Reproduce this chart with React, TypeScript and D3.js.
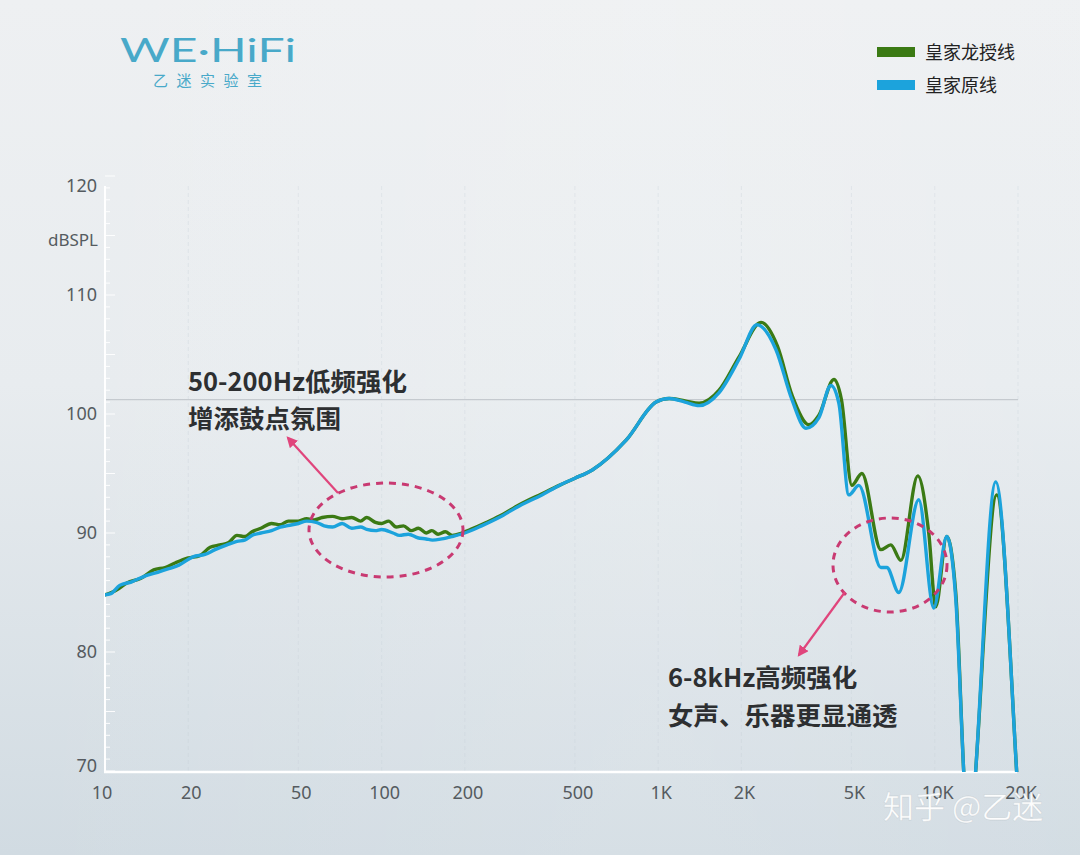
import React from "react";
import * as d3 from "d3";

// ---- data ----
const xTickValues = [10, 20, 50, 100, 200, 500, 1000, 2000, 5000, 10000, 20000];
const xTickLabels = ["10", "20", "50", "100", "200", "500", "1K", "2K", "5K", "10K", "20K"];
const yTickValues = [70, 80, 90, 100, 110, 120];
const referenceLevel = 101.2;

const greenFreq = [10, 11, 12, 13.5, 15, 16.5, 18, 20, 22, 24, 26, 28, 30, 32, 34, 36.6, 40, 43, 46, 50, 53.6, 57, 61, 66.5, 72, 78, 84, 88.4, 95, 100, 106, 113, 120, 128, 136, 145, 152, 160, 170, 180, 195, 210, 240, 266, 316, 380, 439, 500, 578, 766, 983, 1096, 1250, 1406, 1661, 1961, 2354, 2700, 3046, 3509, 3813, 4320, 4600, 5016, 5452, 6386, 6937, 7541, 8682, 9513, 10084, 11050, 11909, 12724, 13300, 14060, 16750, 19770, 20000];
const greenDb = [84.8, 85.2, 85.8, 86.2, 86.9, 87.1, 87.5, 87.9, 88.1, 88.8, 89.0, 89.2, 89.8, 89.7, 90.1, 90.4, 90.8, 90.7, 91.0, 91.0, 91.2, 91.1, 91.3, 91.4, 91.2, 91.3, 91.0, 91.3, 90.9, 90.8, 91.0, 90.5, 90.6, 90.2, 90.4, 90.0, 90.2, 89.9, 90.1, 89.8, 90.0, 90.3, 90.9, 91.4, 92.4, 93.3, 94.0, 94.6, 95.3, 97.8, 101.0, 101.3, 101.1, 100.9, 102.0, 104.8, 107.7, 105.7, 101.6, 99.1, 99.9, 102.9, 101.2, 94.0, 95.0, 88.6, 89.0, 87.7, 94.8, 90.0, 83.8, 89.7, 85.0, 70, 62, 70, 93.2, 70, 68];

const blueFreq = [10, 10.5, 11.3, 12.5, 14, 15.5, 17, 18.5, 20.8, 23, 25, 27.6, 30, 32, 34, 36.6, 40, 43, 45.3, 50, 53.6, 58, 62, 66.5, 72, 78, 84, 88.4, 95, 100, 110, 116, 125, 135, 145, 152.7, 165, 180, 200, 230, 266, 316, 380, 439, 500, 578, 766, 983, 1096, 1250, 1406, 1661, 1961, 2277, 2667, 3046, 3422, 3813, 4212, 4502, 4892, 5317, 6386, 6710, 7413, 8753, 9917, 11050, 11909, 12724, 13300, 14060, 16610, 19770, 20000];
const blueDb = [84.8, 84.9, 85.6, 85.9, 86.4, 86.7, 87.0, 87.3, 88.0, 88.2, 88.6, 89.0, 89.3, 89.4, 89.8, 90.0, 90.2, 90.5, 90.6, 90.8, 91.0, 90.9, 90.6, 90.5, 90.8, 90.4, 90.5, 90.3, 90.2, 90.3, 90.0, 89.8, 89.9, 89.6, 89.5, 89.4, 89.5, 89.7, 90.0, 90.6, 91.3, 92.3, 93.2, 94.0, 94.6, 95.3, 97.8, 101.0, 101.3, 101.0, 100.7, 101.8, 104.6, 107.5, 105.4, 101.2, 98.8, 99.7, 102.4, 100.9, 93.2, 94.0, 87.1, 87.1, 85.0, 92.8, 83.7, 89.7, 84.5, 70, 62, 70, 94.3, 70, 68];

const seriesNames = ["皇家龙授线", "皇家原线"];
const seriesColors = ["#3b7a14", "#1ca3dc"];

const W = 1080;
const H = 855;

export default function App() {
  const x = d3.scaleLog().domain([10, 20000]).range([105, 1018]);
  const y = d3.scaleLinear().domain([70, 120]).range([771, 176]);

  const line = d3
    .line<[number, number]>()
    .x((d) => x(d[0]))
    .y((d) => y(d[1]))
    .curve(d3.curveMonotoneX);

  const greenPts = greenFreq.map((f, i) => [f, greenDb[i]] as [number, number]);
  const bluePts = blueFreq.map((f, i) => [f, blueDb[i]] as [number, number]);

  const minorTicks = d3.range(70, 121, 1);
  const labelFont = "'Noto Sans', 'Liberation Sans', sans-serif";
  const cjk = "'Noto Sans CJK SC', 'Noto Sans', sans-serif";

  return (
    <div style={{ position: "absolute", left: 0, top: 0, width: W, height: H }}>
      <svg width={W} height={H} style={{ display: "block" }}>
        <defs>
          <linearGradient id="bg" x1="0" y1="0" x2="0" y2="1">
            <stop offset="0%" stopColor="#eef0f2" />
            <stop offset="45%" stopColor="#e8ecef" />
            <stop offset="100%" stopColor="#d1dbe2" />
          </linearGradient>
          <linearGradient id="bgh" x1="0" y1="0" x2="1" y2="0">
            <stop offset="0%" stopColor="#ffffff" stopOpacity="0" />
            <stop offset="60%" stopColor="#ffffff" stopOpacity="0.12" />
            <stop offset="100%" stopColor="#ffffff" stopOpacity="0.05" />
          </linearGradient>
          <clipPath id="plotClip">
            <rect x={105} y={170} width={918} height={602} />
          </clipPath>
          <marker id="arrow" viewBox="0 0 10 10" refX="8" refY="5" markerWidth="5" markerHeight="5" orient="auto">
            <path d="M0,0 L10,5 L0,10 z" fill="#e0457c" />
          </marker>
        </defs>
        <rect x={0} y={0} width={W} height={H} fill="url(#bg)" />
        <rect x={0} y={0} width={W} height={H} fill="url(#bgh)" />

        {/* logo */}
        <text x={120} y={62} fontFamily="'Lato', 'Noto Sans', sans-serif" fontSize={32} fontWeight={400}
          fill="#48a9c9" textLength={176} lengthAdjust="spacingAndGlyphs">WE·HiFi</text>
        <text x={153} y={86} fontFamily={cjk} fontSize={15} fill="#48a9c9" textLength={109}
          lengthAdjust="spacing">乙迷实验室</text>

        {/* legend */}
        {seriesNames.map((name, i) => (
          <g key={name} transform={`translate(0, ${i * 33})`}>
            <rect x={877} y={47} width={38} height={10} fill={seriesColors[i]} />
            <text x={925} y={59} fontFamily={cjk} fontSize={18} fill="#222">{name}</text>
          </g>
        ))}

        {/* vertical grid */}
        {xTickValues.slice(1).map((v) => (
          <line key={"g" + v} x1={x(v)} x2={x(v)} y1={186} y2={771} stroke="#c3ccd3"
            strokeOpacity={0.3} strokeWidth={1} strokeDasharray="4,3" />
        ))}

        {/* reference line */}
        <line x1={105} x2={1018} y1={y(referenceLevel)} y2={y(referenceLevel)} stroke="#c5cacf" strokeWidth={1.3} />

        {/* y-axis */}
        <line x1={105} x2={105} y1={186} y2={772} stroke="#ffffff" strokeWidth={2} />
        {minorTicks.map((v) => (
          <line key={"t" + v} x1={105} x2={v % 5 === 0 ? 115 : 110} y1={y(v)} y2={y(v)}
            stroke="#ffffff" strokeWidth={1} strokeOpacity={0.9} />
        ))}
        {yTickValues.map((v) => (
          <text key={"yl" + v} x={97} y={Math.min(Math.max(y(v), 186), 766)} dy="0.35em" textAnchor="end"
            fontFamily={labelFont} fontSize={18} fill="#555b60">{v}</text>
        ))}
        <text x={98} y={y(114.6)} dy="0.35em" textAnchor="end" fontFamily={labelFont} fontSize={17}
          fill="#555b60">dBSPL</text>

        {/* x-axis */}
        <line x1={104} x2={1017} y1={772} y2={772} stroke="#ffffff" strokeWidth={2.5} />
        {xTickValues.map((v, i) => (
          <text key={"xl" + v} x={x(v) + (i === 0 ? -3 : 3)} y={799} textAnchor="middle"
            fontFamily={labelFont} fontSize={18} fill="#555b60">{xTickLabels[i]}</text>
        ))}

        {/* curves */}
        <g clipPath="url(#plotClip)">
          <path d={line(greenPts) || ""} fill="none" stroke={seriesColors[0]} strokeWidth={3.4}
            strokeLinejoin="round" strokeLinecap="round" />
          <path d={line(bluePts) || ""} fill="none" stroke={seriesColors[1]} strokeWidth={3.4}
            strokeLinejoin="round" strokeLinecap="round" />
        </g>

        {/* annotations */}
        <ellipse cx={386} cy={530} rx={77} ry={47} fill="none" stroke="#c93a72" strokeWidth={3}
          strokeDasharray="7,6" />
        <line x1={338} y1={493} x2={288} y2={438} stroke="#e0457c" strokeWidth={2.2} markerEnd="url(#arrow)" />
        <text x={188} y={391} fontFamily={cjk} fontSize={25.5} fontWeight={700} fill="#2d2f31">50-200Hz低频强化</text>
        <text x={188} y={428} fontFamily={cjk} fontSize={25.5} fontWeight={700} fill="#2d2f31">增添鼓点氛围</text>

        <ellipse cx={890} cy={565} rx={57} ry={47} fill="none" stroke="#c93a72" strokeWidth={3}
          strokeDasharray="7,6" />
        <line x1={845} y1={592} x2={799} y2={655} stroke="#e0457c" strokeWidth={2.2} markerEnd="url(#arrow)" />
        <text x={668} y={687} fontFamily={cjk} fontSize={25.5} fontWeight={700} fill="#2d2f31">6-8kHz高频强化</text>
        <text x={668} y={725} fontFamily={cjk} fontSize={25.5} fontWeight={700} fill="#2d2f31">女声、乐器更显通透</text>

        {/* watermark */}
        <text x={883} y={818} fontFamily={cjk} fontSize={31} fill="#ffffff" fillOpacity={0.95}
          stroke="#9aa3aa" strokeOpacity={0.25} strokeWidth={0.8}>知乎 @乙迷</text>
      </svg>
    </div>
  );
}
